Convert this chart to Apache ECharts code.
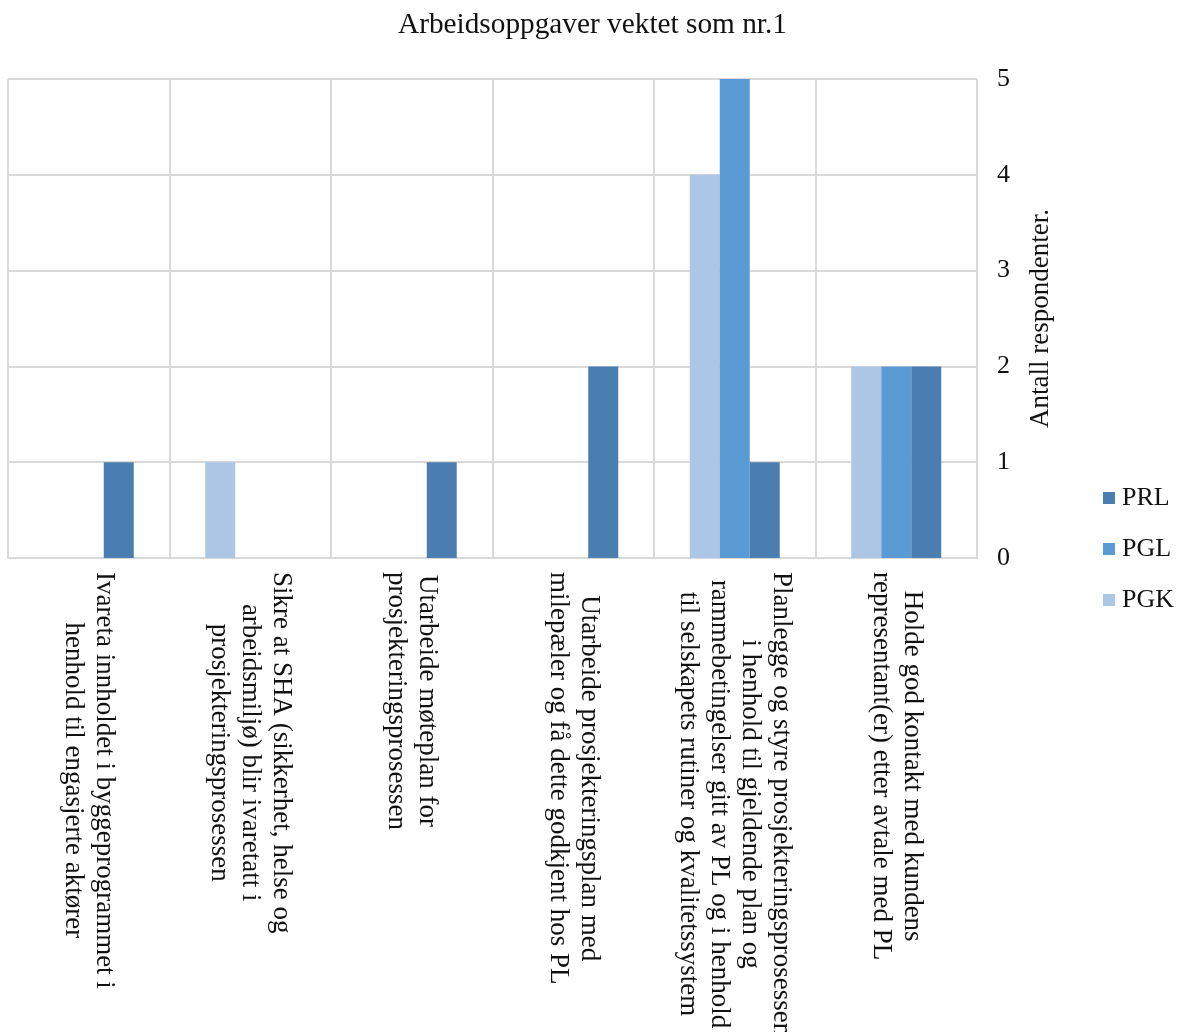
<!DOCTYPE html>
<html>
<head>
<meta charset="utf-8">
<title>Arbeidsoppgaver vektet som nr.1</title>
<script src="https://cdn.jsdelivr.net/npm/echarts@6/dist/echarts.min.js"></script>
<style>
  html, body { margin: 0; padding: 0; background: #ffffff; }
  #chart { width: 1177px; height: 1032px; }
</style>
</head>
<body>
<div id="chart"></div>
<script>
// Work tasks ranked as number one, counted per respondent group
const categories = [
  'Ivareta innholdet i byggeprogrammet i\nhenhold til engasjerte aktører',
  'Sikre at SHA (sikkerhet, helse og\narbeidsmiljø) blir ivaretatt i\nprosjekteringsprosessen',
  'Utarbeide møteplan for\nprosjekteringsprosessen',
  'Utarbeide prosjekteringsplan med\nmilepæler og få dette godkjent hos PL',
  'Planlegge og styre prosjekteringsprosessen\ni henhold til gjeldende plan og\nrammebetingelser gitt av PL og i henhold\ntil selskapets rutiner og kvalitetssystem',
  'Holde god kontakt med kundens\nrepresentant(er) etter avtale med PL'
];
const pgkValues = [0, 1, 0, 0, 4, 2];
const pglValues = [0, 0, 0, 0, 5, 2];
const prlValues = [1, 0, 1, 2, 1, 2];
const yTicks = [0, 1, 2, 3, 4, 5];
const legendOrder = ['PRL', 'PGL', 'PGK'];

const FONT = "'Liberation Serif', 'Times New Roman', serif";
const TEXT = '#111111';
const GRID_LINE = '#d9d9d9';

const chart = echarts.init(document.getElementById('chart'), null, { renderer: 'canvas' });

chart.setOption({
  backgroundColor: '#ffffff',
  animation: false,
  title: {
    text: 'Arbeidsoppgaver vektet som nr.1',
    left: 398,
    top: 11,
    padding: 0,
    textStyle: { fontFamily: FONT, fontSize: 29.3, fontWeight: 'normal', color: TEXT }
  },
  legend: {
    orient: 'vertical',
    left: 1103,
    top: 485,
    padding: 0,
    itemWidth: 12,
    itemHeight: 12,
    itemGap: 25,
    icon: 'rect',
    data: legendOrder,
    textStyle: { fontFamily: FONT, fontSize: 26, lineHeight: 26, color: TEXT, padding: [0, 0, 0, 2] }
  },
  grid: {
    left: 8,
    right: 200,
    top: 79,
    bottom: 474,
    outerBoundsMode: 'none',
    containLabel: false
  },
  xAxis: {
    type: 'category',
    data: categories,
    boundaryGap: true,
    axisLine: { show: true, lineStyle: { color: GRID_LINE, width: 2 } },
    axisTick: { show: false },
    splitLine: { show: true, lineStyle: { color: GRID_LINE, width: 2 } },
    axisLabel: {
      interval: 0,
      rotate: -90,
      margin: 14,
      formatter: function (value) {
        return value.split('\n').map(function (line) { return '{c|' + line + '}'; }).join('\n');
      },
      rich: {
        c: { align: 'center', fontFamily: FONT, fontSize: 27, lineHeight: 31, color: TEXT }
      }
    }
  },
  yAxis: {
    type: 'value',
    position: 'right',
    min: 0,
    max: 5,
    interval: 1,
    name: 'Antall respondenter.',
    nameLocation: 'middle',
    nameGap: 50,
    nameTextStyle: { fontFamily: FONT, fontSize: 27, color: TEXT },
    axisLine: { show: false },
    axisTick: { show: false },
    splitLine: { show: true, lineStyle: { color: GRID_LINE, width: 2 } },
    axisLabel: {
      margin: 20,
      fontFamily: FONT,
      fontSize: 26,
      color: TEXT,
      formatter: function (v) { return yTicks.indexOf(v) >= 0 ? String(v) : ''; }
    }
  },
  series: [
    { name: 'PGK', type: 'bar', data: pgkValues, barWidth: 30, barGap: '0%', itemStyle: { color: '#adc6e6' } },
    { name: 'PGL', type: 'bar', data: pglValues, barWidth: 30, barGap: '0%', itemStyle: { color: '#5b9bd5' } },
    { name: 'PRL', type: 'bar', data: prlValues, barWidth: 30, barGap: '0%', itemStyle: { color: '#4a7eb0' } }
  ]
});
</script>
</body>
</html>
